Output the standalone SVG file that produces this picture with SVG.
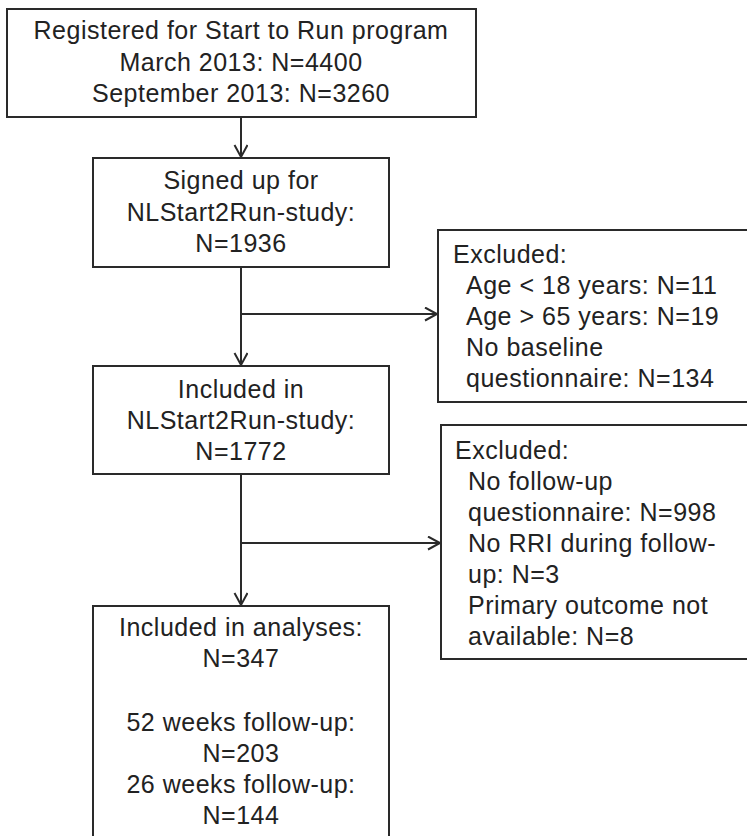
<svg xmlns="http://www.w3.org/2000/svg" width="747" height="836" viewBox="0 0 747 836">
<style>
.box{fill:#fff;stroke:#2a2a2a;stroke-width:2}
.t{font-family:"Liberation Sans",Arial,sans-serif;font-size:25px;letter-spacing:0.5px;fill:#222}
.c{text-anchor:middle}
.conn{fill:none;stroke:#2a2a2a;stroke-width:2}
</style>
<defs>
<marker id="arr" markerUnits="userSpaceOnUse" markerWidth="16" markerHeight="16" refX="13" refY="7" orient="auto">
<path d="M1,0.5 L13,7 L1,13.5" fill="none" stroke="#2a2a2a" stroke-width="2"/>
</marker>
</defs>
<rect width="747" height="836" fill="#fff"/>
<g id="connectors">
<line class="conn" x1="241" y1="117" x2="241" y2="157" marker-end="url(#arr)"/>
<line class="conn" x1="241" y1="267" x2="241" y2="365" marker-end="url(#arr)"/>
<line class="conn" x1="241" y1="314" x2="437" y2="314" marker-end="url(#arr)"/>
<line class="conn" x1="241" y1="474" x2="241" y2="605" marker-end="url(#arr)"/>
<line class="conn" x1="241" y1="543" x2="440" y2="543" marker-end="url(#arr)"/>
</g>
<g id="registered">
<rect class="box" x="7" y="9" width="469" height="108"/>
<text class="t c" x="241" y="39">Registered for Start to Run program</text>
<text class="t c" x="241" y="71">March 2013: N=4400</text>
<text class="t c" x="241" y="102">September 2013: N=3260</text>
</g>
<g id="signed">
<rect class="box" x="93" y="158" width="296" height="109"/>
<text class="t c" x="241" y="189">Signed up for</text>
<text class="t c" x="241" y="221">NLStart2Run-study:</text>
<text class="t c" x="241" y="252">N=1936</text>
</g>
<g id="excluded1">
<rect class="box" x="438" y="230" width="330" height="172"/>
<text class="t" x="453" y="263">Excluded:</text>
<text class="t" x="466" y="294">Age &lt; 18 years: N=11</text>
<text class="t" x="466" y="325">Age &gt; 65 years: N=19</text>
<text class="t" x="466" y="356">No baseline</text>
<text class="t" x="466" y="387">questionnaire: N=134</text>
</g>
<g id="included">
<rect class="box" x="93" y="366" width="296" height="108"/>
<text class="t c" x="241" y="398">Included in</text>
<text class="t c" x="241" y="429">NLStart2Run-study:</text>
<text class="t c" x="241" y="460">N=1772</text>
</g>
<g id="excluded2">
<rect class="box" x="441" y="425" width="330" height="234"/>
<text class="t" x="455" y="459">Excluded:</text>
<text class="t" x="468" y="490">No follow-up</text>
<text class="t" x="468" y="521">questionnaire: N=998</text>
<text class="t" x="468" y="552">No RRI during follow-</text>
<text class="t" x="468" y="583">up: N=3</text>
<text class="t" x="468" y="614">Primary outcome not</text>
<text class="t" x="468" y="645">available: N=8</text>
</g>
<g id="analyses">
<rect class="box" x="93" y="606" width="296" height="250"/>
<text class="t c" x="241" y="636">Included in analyses:</text>
<text class="t c" x="241" y="667">N=347</text>
<text class="t c" x="241" y="731">52 weeks follow-up:</text>
<text class="t c" x="241" y="762">N=203</text>
<text class="t c" x="241" y="793">26 weeks follow-up:</text>
<text class="t c" x="241" y="824">N=144</text>
</g>
</svg>
